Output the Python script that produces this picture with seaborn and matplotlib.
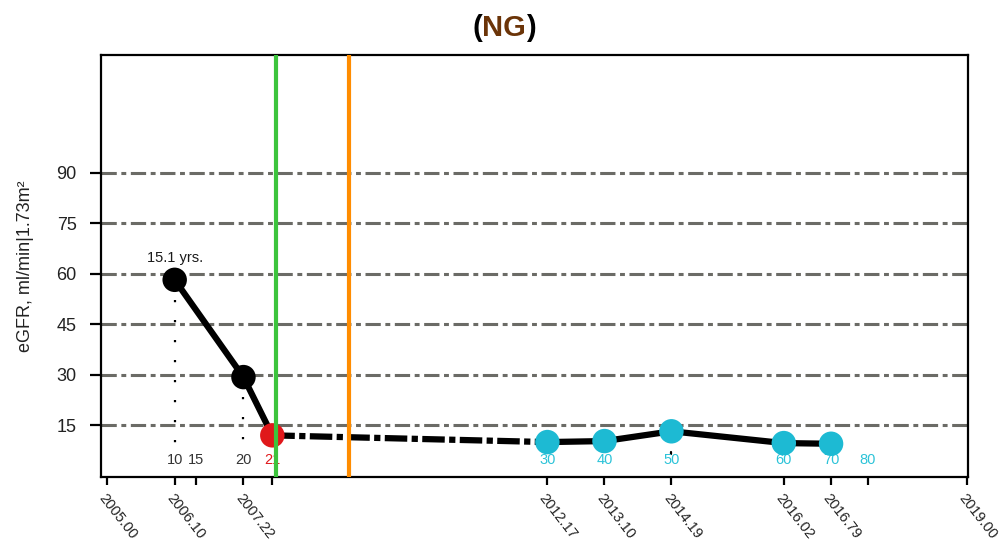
import matplotlib
matplotlib.use("Agg")
import matplotlib.pyplot as plt
import matplotlib.transforms as mtransforms
import seaborn as sns
import pandas as pd

# eGFR measurements (decimal year, value, phase)
years = [2006.10, 2007.22, 2007.69, 2012.17, 2013.10, 2014.19, 2016.02, 2016.79]
egfr = [58.2, 29.3, 12.0, 10.0, 10.3, 13.2, 9.7, 9.5]
phase = ["pre", "pre", "onset", "post", "post", "post", "post", "post"]

# axis ticks
year_ticks = [2005.00, 2006.10, 2006.45, 2007.22, 2007.69, 2012.17, 2013.10,
              2014.19, 2016.02, 2016.79, 2017.39, 2019.00]
year_labels = ["2005.00", "2006.10", "", "2007.22", "", "2012.17", "2013.10",
               "2014.19", "2016.02", "2016.79", "", "2019.00"]
y_ticks = [15, 30, 45, 60, 75, 90]

# age labels along the bottom
age_years = [2006.10, 2006.45, 2007.22, 2007.69, 2012.17, 2013.10, 2014.19,
             2016.02, 2016.79, 2017.39]
age_labels = ["10", "15", "20", "21", "30", "40", "50", "60", "70", "80"]
age_groups = ["pre", "pre", "pre", "onset", "post", "post", "post", "post", "post", "post"]

# event markers
event_years = [2007.75, 2008.94]
event_colors = ["#3cc43c", "#ff8c00"]

duration_text = "15.1 yrs."
title_parts = ["(", "NG", ")"]
title_colors = ["black", "#6b3408", "black"]

palette = {"pre": "black", "onset": "#e0181b", "post": "#1dbad3"}
label_colors = {"pre": "#333333", "onset": "#e0181b", "post": "#2cc3d8"}

df = pd.DataFrame({"year": years, "egfr": egfr, "phase": phase})

sns.set_style("white")
plt.rcParams["font.family"] = ["Liberation Sans", "DejaVu Sans"]

fig = plt.figure(figsize=(10, 5.44), dpi=100)
ax = fig.add_axes([0.101, 0.123, 0.867, 0.776])

# horizontal reference lines
for yv in y_ticks:
    ax.axhline(yv, color="#6b6b66", lw=2.2, dashes=(5, 1.5, 1.6, 1.5), zorder=1)

# dotted drop lines from the early measurements and the 2014 visit
for xv, yv in [(years[0], egfr[0]), (years[1], egfr[1])]:
    ax.plot([xv, xv], [yv, 7.0], color="black", lw=1.6, dashes=(1, 8), zorder=1)
ax.plot([years[5], years[5]], [7.2, 6.4], color="black", lw=1.6, zorder=1)

# trajectory: solid before onset, dash-dot gap, solid afterwards
pre = df.iloc[0:3]
gap = df.iloc[2:4]
post = df.iloc[3:]
sns.lineplot(data=pre, x="year", y="egfr", ax=ax, color="black", lw=4.5,
             sort=False, zorder=3)
sns.lineplot(data=gap, x="year", y="egfr", ax=ax, color="black", lw=4.5,
             sort=False, zorder=3)
ax.lines[-1].set_dashes((3.6, 0.7, 1.0, 0.7))
sns.lineplot(data=post, x="year", y="egfr", ax=ax, color="black", lw=4.5,
             sort=False, zorder=3)

sns.scatterplot(data=df, x="year", y="egfr", hue="phase", palette=palette,
                s=310, linewidth=0, ax=ax, legend=False, zorder=4)

# vertical event lines
for xv, c in zip(event_years, event_colors):
    ax.axvline(xv, color=c, lw=3, zorder=5)

ax.text(years[0], egfr[0] + 4.3, duration_text, ha="center", va="bottom",
        fontsize=10.5, color="#1a1a1a")

for xv, lab, g in zip(age_years, age_labels, age_groups):
    ax.text(xv, 4.6, lab, ha="center", va="center", fontsize=10.5,
            color=label_colors[g], zorder=2)

ax.set_xlim(2004.90, 2019.02)
ax.set_ylim(-0.4, 125)
ax.set_yticks(y_ticks)
ax.set_yticklabels([str(v) for v in y_ticks], fontsize=13, color="#222222")
ax.set_xticks(year_ticks)
ax.set_xticklabels(year_labels, rotation=-52, ha="left", va="top",
                   rotation_mode="anchor", fontsize=10.5, color="#222222")
shift = mtransforms.ScaledTranslation(-4 / 100, -10 / 100, fig.dpi_scale_trans)
for t in ax.get_xticklabels():
    t.set_transform(t.get_transform() + shift)
ax.tick_params(axis="x", which="both", direction="out", length=6, width=1.6,
               color="black", bottom=True, pad=4)
ax.tick_params(axis="y", which="both", direction="out", length=8, width=1.6,
               color="black", left=True, pad=9.5)
ax.set_xlabel("")
ax.set_ylabel("eGFR, ml/min|1.73m²", fontsize=13, color="#222222")
ax.yaxis.set_label_coords(-0.077, 0.5)
for s in ax.spines.values():
    s.set_color("black")
    s.set_linewidth(1.6)

# title with coloured initials, laid out piece by piece
renderer = fig.canvas.get_renderer()
pieces = []
for txt, col in zip(title_parts, title_colors):
    pieces.append(fig.text(0, 0.948, txt, ha="left", va="center", fontsize=21,
                           fontweight="bold", color=col))
widths = [p.get_window_extent(renderer).width for p in pieces]
x0 = 504 - sum(widths) / 2
for p, w in zip(pieces, widths):
    p.set_x(x0 / 1000)
    x0 += w

fig.savefig("out.png", dpi=100)
